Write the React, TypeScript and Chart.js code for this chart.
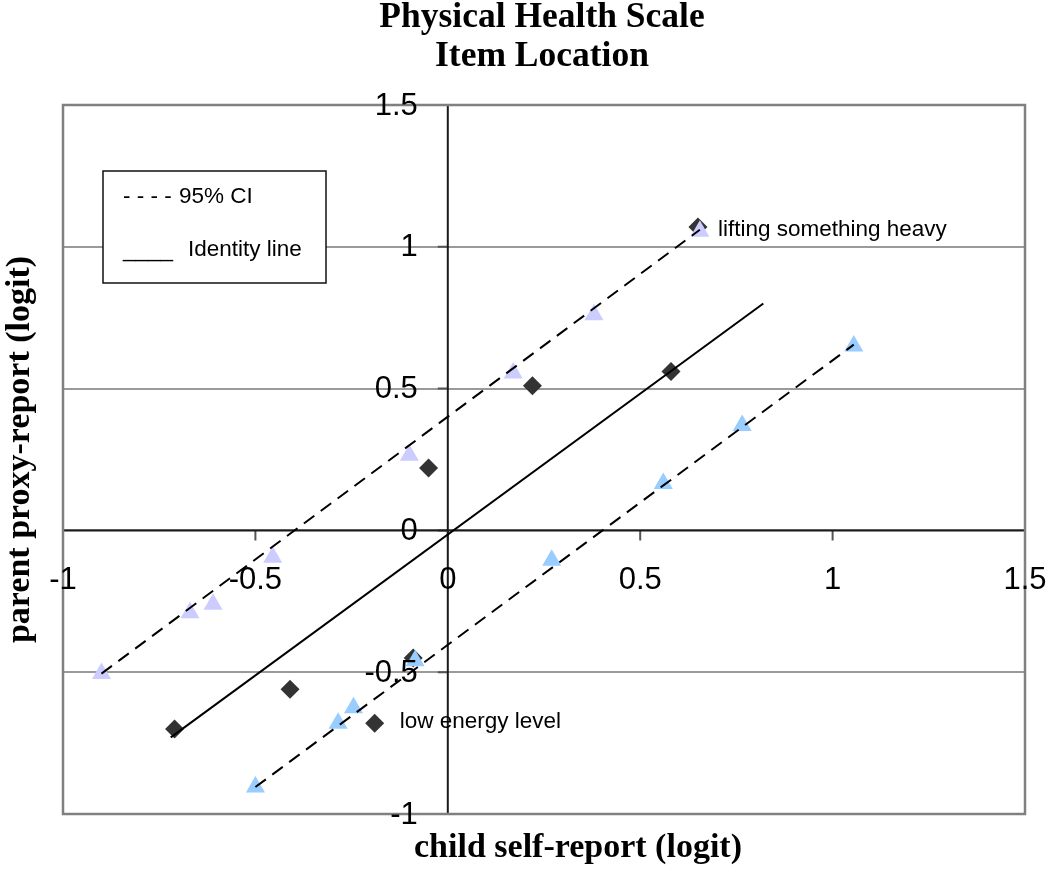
import React, { useEffect, useRef } from "react";
import { Chart, registerables } from "chart.js";

Chart.register(...registerables);

// ---- Data ----
const titleLines = ["Physical Health Scale", "Item Location"];
const xAxisTitle = "child self-report (logit)";
const yAxisTitle = "parent proxy-report (logit)";

const xTicks = [-1, -0.5, 0, 0.5, 1, 1.5];
const xTickLabels = ["-1", "-0.5", "0", "0.5", "1", "1.5"];
const yTicks = [-1, -0.5, 0, 0.5, 1, 1.5];
const yTickLabels = ["-1", "-0.5", "0", "0.5", "1", "1.5"];

// item locations (diamonds)
const itemChild = [-0.71, -0.41, -0.19, -0.09, -0.05, 0.22, 0.58, 0.65];
const itemParent = [-0.7, -0.56, -0.68, -0.45, 0.22, 0.51, 0.56, 1.07];

// upper 95% CI (lavender triangles)
const upperChild = [-0.9, -0.67, -0.61, -0.455, -0.1, 0.17, 0.38, 0.655];
const upperParent = [-0.505, -0.29, -0.26, -0.095, 0.265, 0.555, 0.76, 1.055];

// lower 95% CI (blue triangles)
const lowerChild = [-0.5, -0.285, -0.245, -0.085, 0.27, 0.56, 0.765, 1.055];
const lowerParent = [-0.905, -0.68, -0.625, -0.46, -0.105, 0.165, 0.37, 0.65];

// line end points
const upperLineChild = [-0.9, 0.655];
const upperLineParent = [-0.505, 1.06];
const identityLineChild = [-0.72, 0.82];
const identityLineParent = [-0.73, 0.8];
const lowerLineChild = [-0.5, 1.055];
const lowerLineParent = [-0.905, 0.655];

// legend text box
const legendMarks = ["- - - -", "____"];
const legendTexts = ["95% CI", "Identity line"];

// annotations
const noteTexts = ["lifting something heavy", "low energy level"];
const noteChild = [0.65, -0.19];
const noteParent = [1.07, -0.68];

const pts = (xs: number[], ys: number[]) => xs.map((v, i) => ({ x: v, y: ys[i] }));

const SANS = "'Liberation Sans', Arial, sans-serif";
const SERIF = "'Liberation Serif', 'Times New Roman', serif";

const decorPlugin = {
  id: "decor",
  beforeDatasetsDraw(chart: any) {
    const { ctx, chartArea: a, scales } = chart;
    const x = scales.x;
    const y = scales.y;
    const x0 = x.getPixelForValue(0);
    const y0 = y.getPixelForValue(0);
    ctx.save();
    // tick marks
    ctx.strokeStyle = "#555";
    ctx.lineWidth = 2;
    ctx.beginPath();
    xTicks.forEach((v) => {
      const px = x.getPixelForValue(v);
      ctx.moveTo(px, y0);
      ctx.lineTo(px, y0 + 10);
    });
    yTicks.forEach((v) => {
      const py = y.getPixelForValue(v);
      ctx.moveTo(x0 - 10, py);
      ctx.lineTo(x0, py);
    });
    ctx.stroke();
    // axes through origin
    ctx.strokeStyle = "#1a1a1a";
    ctx.lineWidth = 2;
    ctx.beginPath();
    ctx.moveTo(x0, a.top);
    ctx.lineTo(x0, a.bottom);
    ctx.moveTo(a.left, y0);
    ctx.lineTo(a.right, y0);
    ctx.stroke();
    // plot border
    ctx.strokeStyle = "#808080";
    ctx.lineWidth = 2.5;
    ctx.strokeRect(a.left, a.top, a.right - a.left, a.bottom - a.top);
    ctx.restore();
  },
  afterDatasetsDraw(chart: any) {
    const { ctx, chartArea: a, scales } = chart;
    const x = scales.x;
    const y = scales.y;
    const x0 = x.getPixelForValue(0);
    const y0 = y.getPixelForValue(0);
    ctx.save();
    ctx.fillStyle = "#000";

    // tick labels
    ctx.font = `31px ${SANS}`;
    ctx.textBaseline = "middle";
    ctx.textAlign = "center";
    xTicks.forEach((v, i) => {
      ctx.fillText(xTickLabels[i], x.getPixelForValue(v), y0 + 50);
    });
    ctx.textAlign = "right";
    yTicks.forEach((v, i) => {
      ctx.fillText(yTickLabels[i], x0 - 30, y.getPixelForValue(v) + 1);
    });

    // legend text box
    const bx = 103, by = 171, bw = 223, bh = 112;
    ctx.fillStyle = "#fff";
    ctx.fillRect(bx, by, bw, bh);
    ctx.strokeStyle = "#111";
    ctx.lineWidth = 1.5;
    ctx.strokeRect(bx, by, bw, bh);
    ctx.fillStyle = "#000";
    ctx.font = `22.5px ${SANS}`;
    ctx.textAlign = "left";
    ctx.textBaseline = "middle";
    ctx.fillText(legendMarks[0], 123, 197);
    ctx.fillText(legendTexts[0], 179, 197);
    ctx.fillText(legendMarks[1], 123, 251);
    ctx.fillText(legendTexts[1], 188, 250);

    // annotations
    const dxs = [20, 25];
    const dys = [3, -1];
    noteTexts.forEach((t, i) => {
      ctx.fillText(t, x.getPixelForValue(noteChild[i]) + dxs[i], y.getPixelForValue(noteParent[i]) + dys[i]);
    });

    // title
    ctx.font = `bold 35.5px ${SERIF}`;
    ctx.textAlign = "center";
    ctx.textBaseline = "alphabetic";
    ctx.fillText(titleLines[0], 542, 27);
    ctx.fillText(titleLines[1], 542, 66);

    // x axis title
    ctx.font = `bold 34px ${SERIF}`;
    ctx.fillText(xAxisTitle, 578, 857);

    // y axis title
    ctx.save();
    ctx.translate(29, (a.top + a.bottom) / 2 - 10);
    ctx.rotate(-Math.PI / 2);
    ctx.fillText(yAxisTitle, 0, 0);
    ctx.restore();

    ctx.restore();
  },
};

export default function App() {
  const ref = useRef<HTMLCanvasElement | null>(null);
  useEffect(() => {
    if (!ref.current) return;
    const chart = new Chart(ref.current, {
      type: "scatter",
      data: {
        datasets: [
          {
            label: "upper CI line",
            data: pts(upperLineChild, upperLineParent),
            showLine: true,
            borderColor: "#000",
            borderWidth: 2,
            borderDash: [13, 8],
            pointRadius: 0,
            order: 1,
          },
          {
            label: "identity line",
            data: pts(identityLineChild, identityLineParent),
            showLine: true,
            borderColor: "#000",
            borderWidth: 2,
            pointRadius: 0,
            order: 1,
          },
          {
            label: "lower CI line",
            data: pts(lowerLineChild, lowerLineParent),
            showLine: true,
            borderColor: "#000",
            borderWidth: 2,
            borderDash: [13, 8],
            pointRadius: 0,
            order: 1,
          },
          {
            label: "upper CI",
            data: pts(upperChild, upperParent),
            pointStyle: "triangle",
            pointRadius: 11,
            backgroundColor: "#ccccff",
            borderColor: "#ccccff",
            borderWidth: 0,
            order: 2,
          },
          {
            label: "lower CI",
            data: pts(lowerChild, lowerParent),
            pointStyle: "triangle",
            pointRadius: 11,
            backgroundColor: "#99ccff",
            borderColor: "#99ccff",
            borderWidth: 0,
            order: 2,
          },
          {
            label: "items",
            data: pts(itemChild, itemParent),
            pointStyle: "rectRot",
            pointRadius: 9.5,
            backgroundColor: "#333333",
            borderColor: "#333333",
            borderWidth: 0,
            order: 3,
          },
        ],
      },
      options: {
        responsive: false,
        animation: false,
        layout: { autoPadding: false, padding: { left: 63, right: 25, top: 105, bottom: 58 } },
        plugins: { legend: { display: false }, tooltip: { enabled: false }, title: { display: false } },
        scales: {
          x: {
            type: "linear",
            min: -1,
            max: 1.5,
            ticks: { display: false, stepSize: 0.5 },
            grid: { display: false, drawTicks: false },
            border: { display: false },
          },
          y: {
            type: "linear",
            min: -1,
            max: 1.5,
            ticks: { display: false, stepSize: 0.5 },
            grid: { color: "#9a9a9a", lineWidth: 2, drawTicks: false },
            border: { display: false },
          },
        },
      },
      plugins: [decorPlugin],
    });
    return () => chart.destroy();
  }, []);
  return (
    <div style={{ position: "absolute", left: 0, top: 0, width: 1050, height: 872, background: "#fff" }}>
      <canvas ref={ref} width={1050} height={872} style={{ display: "block" }} />
    </div>
  );
}
